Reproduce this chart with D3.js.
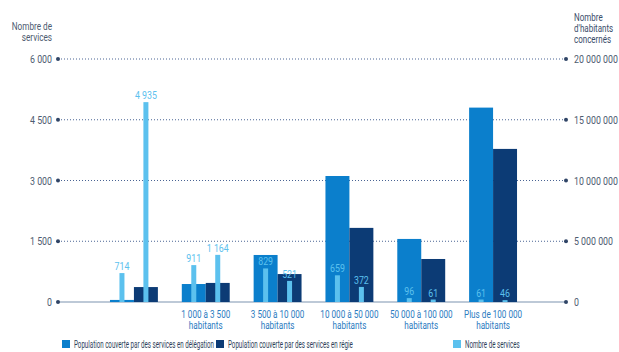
<!DOCTYPE html>
<html>
<head>
<meta charset="utf-8">
<script src="https://cdn.jsdelivr.net/npm/d3@7"></script>
<style>
body { margin: 0; background: #fff; }
text { font-family: "Roboto", "Liberation Sans", sans-serif; }
</style>
</head>
<body>
<div id="chart"></div>
<script>
// categories and tick labels (first group has no label in the source)
var categories = ['lt1000', '1000-3500', '3500-10000', '10000-50000', '50000-100000', 'gt100000'];
var cat_labels = [
    ['', ''],
    ['1 000 à 3 500', 'habitants'],
    ['3 500 à 10 000', 'habitants'],
    ['10 000 à 50 000', 'habitants'],
    ['50 000 à 100 000', 'habitants'],
    ['Plus de 100 000', 'habitants']
];
// population covered (inhabitants)
var pop_delegation = [170000, 1480000, 3870000, 10370000, 5190000, 16000000];
var pop_regie = [1230000, 1570000, 2300000, 6100000, 3540000, 12600000];
// number of services
var nb_delegation = [714, 911, 829, 659, 96, 61];
var nb_regie = [4935, 1164, 521, 372, 61, 46];

var left_ticks = [0, 1500, 3000, 4500, 6000];
var right_ticks = [0, 5000000, 10000000, 15000000, 20000000];

var width = 619, height = 352;
var col_deleg = '#0b7fcc', col_regie = '#0c3b75', col_nb = '#5cc1ee';
var fmt = function(v) { return d3.format(',')(v).replace(/,/g, ' '); };

var svg = d3.select('#chart').append('svg')
    .attr('width', width).attr('height', height);

// condensed text: squeeze horizontally around the anchor point
function ctext(parent, x, y, anchor, sx, size, color) {
    return parent.append('g')
        .attr('transform', 'translate(' + x + ',' + y + ') scale(' + sx + ',1)')
        .append('text')
        .attr('text-anchor', anchor)
        .attr('fill', color)
        .style('font-size', size + 'px');
}

var x_scale = d3.scaleBand()
    .domain(categories)
    .range([98, 529])
    .paddingInner(0.333)
    .paddingOuter(0.1667);

var sub = d3.scaleBand().domain(['d', 'r']).range([0, x_scale.bandwidth()]);

var y_left = d3.scaleLinear().domain([0, 6000]).range([302, 59]);
var y_right = d3.scaleLinear().domain([0, 20000000]).range([302, 59]);

var x0 = 58, x1 = 566;

// grid lines
svg.append('g').selectAll('line')
    .data(left_ticks.slice(1))
    .enter().append('line')
    .attr('x1', x0).attr('x2', x1)
    .attr('y1', function(d) { return y_left(d); })
    .attr('y2', function(d) { return y_left(d); })
    .attr('stroke', '#4a6494')
    .attr('stroke-width', 1)
    .attr('stroke-dasharray', '1,2');

// baseline
svg.append('line')
    .attr('x1', x0).attr('x2', x1)
    .attr('y1', y_left(0)).attr('y2', y_left(0))
    .attr('stroke', '#7d93b0').attr('stroke-width', 1.2);

// end dots
left_ticks.forEach(function(d) {
    svg.append('circle').attr('cx', x0).attr('cy', y_left(d)).attr('r', 2).attr('fill', '#2f4466');
    svg.append('circle').attr('cx', x1).attr('cy', y_left(d)).attr('r', 2).attr('fill', '#2f4466');
});

// axes (labels only)
var left_axis = d3.axisLeft(y_left).tickValues(left_ticks).tickFormat(fmt).tickSize(0).tickPadding(0);
var right_axis = d3.axisRight(y_right).tickValues(right_ticks).tickFormat(fmt).tickSize(0).tickPadding(0);

var gl = svg.append('g').attr('transform', 'translate(52,0) scale(0.8,1)').call(left_axis);
var gr = svg.append('g').attr('transform', 'translate(574,0) scale(0.8,1)').call(right_axis);
[gl, gr].forEach(function(g) {
    g.select('.domain').remove();
    g.selectAll('text').attr('fill', '#4d5b70').style('font-size', '11px')
        .style('font-family', 'Roboto, sans-serif');
});

// axis titles
ctext(svg, 52, 30, 'end', 0.82, 10, '#4d5b70')
    .selectAll('tspan').data(['Nombre de', 'services']).enter().append('tspan')
    .attr('x', 0).attr('dy', function(d, i) { return i ? 11 : 0; }).text(function(d) { return d; });

ctext(svg, 574, 21, 'start', 0.8, 10, '#3a4d6a')
    .selectAll('tspan').data(['Nombre', "d'habitants", 'concernés']).enter().append('tspan')
    .attr('x', 0).attr('dy', function(d, i) { return i ? 11 : 0; }).text(function(d) { return d; });

// population bars
var groups = svg.append('g').selectAll('g')
    .data(categories)
    .enter().append('g')
    .attr('transform', function(d) { return 'translate(' + x_scale(d) + ',0)'; });

groups.append('rect')
    .attr('x', sub('d')).attr('width', sub.bandwidth())
    .attr('y', function(d, i) { return y_right(pop_delegation[i]); })
    .attr('height', function(d, i) { return y_right(0) - y_right(pop_delegation[i]); })
    .attr('fill', col_deleg);

groups.append('rect')
    .attr('x', sub('r')).attr('width', sub.bandwidth())
    .attr('y', function(d, i) { return y_right(pop_regie[i]); })
    .attr('height', function(d, i) { return y_right(0) - y_right(pop_regie[i]); })
    .attr('fill', col_regie);

// number of services bars
var thin = 5;
[['d', nb_delegation], ['r', nb_regie]].forEach(function(s) {
    var cx = sub(s[0]) + sub.bandwidth() / 2;
    groups.append('rect')
        .attr('x', cx - thin / 2).attr('width', thin)
        .attr('y', function(d, i) { return y_left(s[1][i]); })
        .attr('height', function(d, i) { return y_left(0) - y_left(s[1][i]); })
        .attr('fill', col_nb);
    groups.each(function(d, i) {
        ctext(d3.select(this), cx, y_left(s[1][i]) - 3, 'middle', 0.8, 11, col_nb)
            .text(fmt(s[1][i]));
    });
});

// category labels
groups.each(function(d, i) {
    ctext(d3.select(this), x_scale.bandwidth() / 2, 318, 'middle', 0.74, 11, '#2c7cbf')
        .selectAll('tspan').data(cat_labels[i])
        .enter().append('tspan')
        .attr('x', 0)
        .attr('dy', function(t, j) { return j ? 11 : 0; })
        .text(function(t) { return t; });
});

// legend
var legend = [
    ['Population couverte par des services en délégation', col_deleg, 62],
    ['Population couverte par des services en régie', col_regie, 216],
    ['Nombre de services', col_nb, 453]
];
legend.forEach(function(l) {
    svg.append('rect').attr('x', l[2]).attr('y', 340).attr('width', 8).attr('height', 8).attr('fill', l[1]);
    ctext(svg, l[2] + 12, 348, 'start', 0.62, 10, '#2f3f5a').text(l[0]);
});
</script>
</body>
</html>
